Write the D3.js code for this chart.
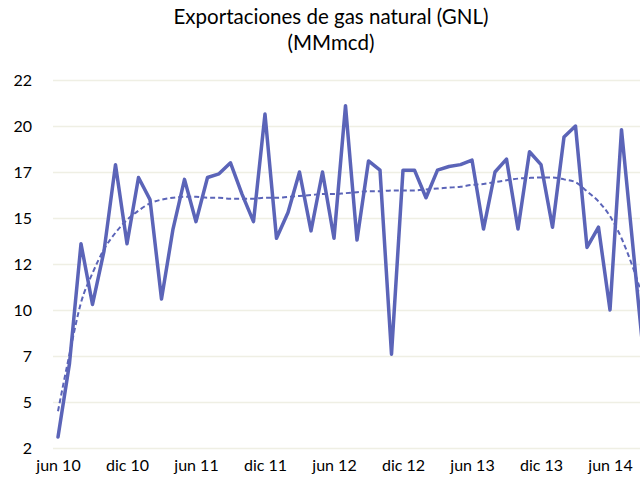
<!DOCTYPE html>
<html>
<head>
<meta charset="utf-8">
<script src="https://cdn.jsdelivr.net/npm/d3@7"></script>
<style>
  body { margin: 0; background: #fff; }
  svg { display: block; font-family: Lato, "Open Sans", sans-serif; }
</style>
</head>
<body>
<div id="chart"></div>
<script>
// monthly exports, jun 10 .. sep 14 (MMmcd)
var exportaciones = [
  3.1, 7.1, 13.6, 10.3, 13.2, 17.9, 13.6, 17.2, 16.0, 10.6,
  14.4, 17.1, 14.8, 17.2, 17.4, 18.0, 16.3, 14.8, 20.65, 13.9,
  15.3, 17.5, 14.3, 17.5, 13.9, 21.1, 13.8, 18.1, 17.6, 7.6,
  17.6, 17.6, 16.1, 17.6, 17.8, 17.9, 18.15, 14.4, 17.5, 18.2,
  14.4, 18.6, 17.9, 14.5, 19.4, 20.0, 13.4, 14.5, 10.0, 19.8,
  13.4, 7.0
];
// polynomial trend line as drawn in the original
var tendencia = [
  4.5, 7.6, 10.4, 12.0, 13.3, 14.2, 14.9, 15.4, 15.8, 16.0,
  16.1, 16.15, 16.15, 16.1, 16.1, 16.05, 16.05, 16.05, 16.1, 16.1,
  16.15, 16.2, 16.25, 16.3, 16.3, 16.35, 16.4, 16.45, 16.45, 16.5,
  16.5, 16.5, 16.55, 16.6, 16.65, 16.7, 16.8, 16.85, 16.95, 17.05,
  17.14, 17.18, 17.2, 17.2, 17.1, 16.95, 16.45, 15.9, 15.1, 13.9,
  12.3, 10.4
];
var mesTicks   = [0, 6, 12, 18, 24, 30, 36, 42, 48];
var mesLabels  = ["jun 10", "dic 10", "jun 11", "dic 11", "jun 12", "dic 12", "jun 13", "dic 13", "jun 14"];
var yTicks     = [2.5, 5, 7.5, 10, 12.5, 15, 17.5, 20, 22.5];
var yLabels    = ["2", "5", "7", "10", "12", "15", "17", "20", "22"];

var width  = 640,
    height = 482,
    color  = "#5b64b8";

var x = d3.scaleLinear().domain([0, 48]).range([58, 610]);
var y = d3.scaleLinear().domain([2.5, 22.5]).range([448, 80]);

var svg = d3.select("#chart").append("svg")
    .attr("width", width)
    .attr("height", height);

// title
var title = svg.append("text")
    .attr("x", 331)
    .attr("text-anchor", "middle")
    .style("font-size", "20.5px")
    .style("fill", "#000");
title.append("tspan").attr("x", 331).attr("y", 24).text("Exportaciones de gas natural (GNL)");
title.append("tspan").attr("x", 331).attr("y", 50).text("(MMmcd)");

// gridlines + y labels
var yAxis = d3.axisLeft(y)
    .tickValues(yTicks)
    .tickSize(-(width - 53))
    .tickPadding(21)
    .tickFormat(function(d, i) { return yLabels[i]; });

var gy = svg.append("g")
    .attr("transform", "translate(53,0)")
    .call(yAxis);
gy.select(".domain").remove();
gy.selectAll(".tick line")
    .attr("stroke", "#efefe4")
    .attr("stroke-width", 1.5);
gy.selectAll(".tick text")
    .style("font-family", "Lato, 'Open Sans', sans-serif")
    .style("font-size", "16px")
    .attr("fill", "#000");

// x labels
var xAxis = d3.axisBottom(x)
    .tickValues(mesTicks)
    .tickSize(0)
    .tickPadding(0)
    .tickFormat(function(d, i) { return mesLabels[i]; });

var gx = svg.append("g")
    .attr("transform", "translate(0,460)")
    .call(xAxis);
gx.select(".domain").remove();
gx.selectAll(".tick text")
    .style("font-family", "Lato, 'Open Sans', sans-serif")
    .style("font-size", "16px")
    .attr("fill", "#000");

var line = d3.line()
    .x(function(d, i) { return x(i); })
    .y(function(d) { return y(d); });

var trendLine = d3.line()
    .curve(d3.curveMonotoneX)
    .x(function(d, i) { return x(i); })
    .y(function(d) { return y(d); });

svg.append("path")
    .datum(tendencia)
    .attr("fill", "none")
    .attr("stroke", color)
    .attr("stroke-width", 2)
    .attr("stroke-dasharray", "5,3")
    .attr("d", trendLine);

svg.append("path")
    .datum(exportaciones)
    .attr("fill", "none")
    .attr("stroke", color)
    .attr("stroke-width", 3.5)
    .attr("stroke-linejoin", "round")
    .attr("stroke-linecap", "round")
    .attr("d", line);
</script>
</body>
</html>
